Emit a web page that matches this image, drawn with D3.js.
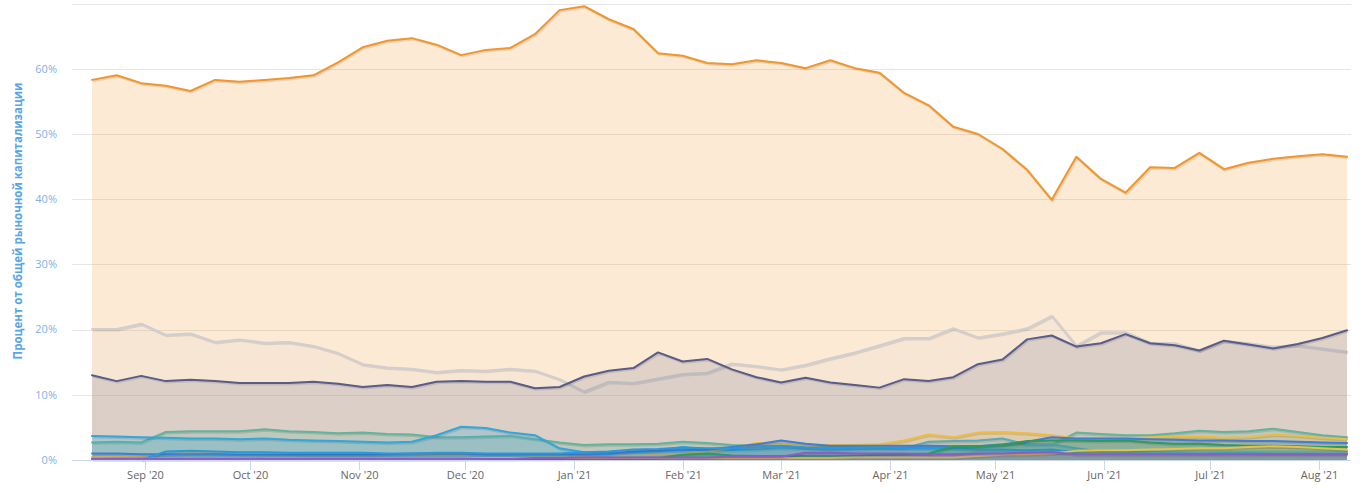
<!DOCTYPE html>
<html><head><meta charset="utf-8">
<script src="https://cdn.jsdelivr.net/npm/d3@7"></script>
<style>body{margin:0;background:#fff}svg{display:block}</style>
</head><body><svg id="c" width="1364" height="493"></svg>
<script>
const dates = ["2020-08-17","2020-08-24","2020-08-31","2020-09-07","2020-09-14","2020-09-21","2020-09-28",
"2020-10-05","2020-10-12","2020-10-19","2020-10-26","2020-11-02","2020-11-09","2020-11-16","2020-11-23","2020-11-30",
"2020-12-07","2020-12-14","2020-12-21","2020-12-28","2021-01-04","2021-01-11","2021-01-18","2021-01-25",
"2021-02-01","2021-02-08","2021-02-15","2021-02-22","2021-03-01","2021-03-08","2021-03-15","2021-03-22","2021-03-29",
"2021-04-05","2021-04-12","2021-04-19","2021-04-26","2021-05-03","2021-05-10","2021-05-17","2021-05-24","2021-05-31",
"2021-06-07","2021-06-14","2021-06-21","2021-06-28","2021-07-05","2021-07-12","2021-07-19","2021-07-26","2021-08-02","2021-08-09"];

const bitcoin = [58.3,59.0,57.8,57.4,56.6,58.3,58.0,58.3,58.6,59.0,61.0,63.3,64.3,64.7,63.7,62.1,62.9,63.2,65.3,69.0,
69.6,67.6,66.1,62.4,62.0,60.9,60.7,61.3,60.9,60.1,61.3,60.1,59.4,56.3,54.4,51.1,50.0,47.7,44.5,39.9,
46.5,43.1,41.0,44.9,44.8,47.1,44.6,45.6,46.2,46.6,46.9,46.5];
const others = [20.1,20.1,20.9,19.2,19.4,18.1,18.5,18.0,18.1,17.5,16.4,14.7,14.2,14.0,13.5,13.8,13.7,14.0,13.7,12.4,
10.5,12.0,11.8,12.5,13.2,13.4,14.8,14.4,13.9,14.6,15.6,16.5,17.6,18.7,18.7,20.2,18.8,19.4,20.2,22.1,
17.5,19.6,19.6,18.0,17.9,16.8,18.3,17.9,17.4,17.6,17.1,16.6];
const ethereum = [13.0,12.1,12.9,12.1,12.3,12.1,11.8,11.8,11.8,12.0,11.7,11.2,11.5,11.2,12.0,12.1,12.0,12.0,11.0,11.2,
12.8,13.7,14.1,16.5,15.1,15.5,13.9,12.7,11.9,12.6,11.9,11.5,11.1,12.4,12.1,12.7,14.7,15.4,18.5,19.1,
17.4,17.9,19.3,17.9,17.6,16.8,18.3,17.7,17.1,17.8,18.7,19.9];
const tether = [2.7,2.8,2.7,4.3,4.4,4.4,4.4,4.7,4.4,4.3,4.1,4.2,4.0,3.9,3.5,3.5,3.6,3.7,3.2,2.7,
2.3,2.4,2.4,2.5,2.8,2.6,2.3,2.2,2.1,2.0,2.0,2.0,1.9,1.9,2.0,2.0,2.1,2.2,2.3,2.3,
4.2,4.0,3.8,3.8,4.1,4.5,4.3,4.4,4.8,4.3,3.8,3.5];
const xrp = [3.7,3.6,3.5,3.4,3.3,3.3,3.2,3.3,3.1,3.0,2.9,2.8,2.7,2.8,3.8,5.1,4.9,4.2,3.8,1.8,
1.2,1.1,1.2,1.4,2.0,1.6,1.5,1.6,1.8,1.7,1.6,1.6,1.7,1.8,2.8,2.9,3.0,3.3,2.4,2.4,
1.8,1.3,1.2,1.2,1.3,1.3,1.3,1.3,1.3,1.3,1.3,1.3];
const binance = [0.5,0.6,0.6,0.9,1.0,1.0,1.0,0.9,0.9,0.8,0.8,0.8,0.8,0.8,0.8,0.8,0.8,0.8,0.7,0.7,
0.6,0.7,0.7,0.8,1.0,1.3,1.8,2.6,2.5,2.2,2.3,2.3,2.4,3.0,3.9,3.5,4.2,4.3,4.1,3.8,
3.3,3.4,3.3,3.5,3.6,3.6,3.4,3.5,3.9,3.7,3.4,3.2];
const cardano = [1.0,1.0,0.9,0.9,0.9,0.9,0.8,0.8,0.8,0.8,0.8,0.8,0.9,1.0,1.0,1.0,0.9,0.9,0.9,0.9,
0.8,0.9,1.3,1.4,1.5,1.6,2.0,2.4,3.0,2.5,2.2,2.2,2.2,2.2,2.2,2.1,2.1,2.4,2.8,3.5,
3.3,3.3,3.3,3.2,3.1,3.0,3.0,2.9,2.9,2.8,2.7,2.6];
const polkadot = [null,null,0.0,1.3,1.4,1.3,1.2,1.2,1.1,1.1,1.1,1.1,1.0,1.0,1.1,1.1,1.0,1.0,1.0,1.0,
1.2,1.3,1.6,1.7,1.9,1.8,1.8,1.9,2.2,1.9,1.7,1.9,1.9,1.8,1.8,1.8,1.6,1.6,1.5,1.6,
1.2,1.4,1.3,1.2,1.1,1.0,1.1,1.1,1.0,1.0,1.0,1.0];
const dogecoin = [0.1,0.1,0.1,0.1,0.1,0.1,0.1,0.1,0.1,0.1,0.1,0.1,0.1,0.1,0.1,0.1,0.1,0.1,0.1,0.1,
0.2,0.2,0.2,0.3,0.8,1.0,0.7,0.6,0.6,0.6,0.6,0.6,0.8,0.9,1.0,2.1,2.1,2.3,2.9,3.0,
3.0,2.9,3.0,2.7,2.5,2.5,2.3,2.2,2.2,2.1,2.0,2.0];
const usdcoin = [0.2,0.2,0.2,0.2,0.2,0.2,0.2,0.2,0.2,0.2,0.2,0.2,0.2,0.2,0.2,0.2,0.3,0.3,0.3,0.3,
0.3,0.3,0.3,0.3,0.3,0.3,0.3,0.3,0.3,0.3,0.3,0.4,0.4,0.4,0.4,0.4,0.6,0.8,0.9,1.0,
1.4,1.5,1.5,1.6,1.7,1.8,1.8,2.0,2.1,2.0,1.8,1.6];
const solana = [0.2,0.2,0.2,0.2,0.2,0.2,0.2,0.2,0.2,0.2,0.2,0.2,0.2,0.2,0.2,0.2,0.2,0.2,0.3,0.3,
0.4,0.4,0.4,0.4,0.4,0.4,0.5,0.5,0.5,1.1,1.1,1.0,1.0,1.0,0.9,0.9,1.0,1.0,1.1,1.2,
0.9,0.9,0.9,0.9,0.9,0.9,0.9,0.9,0.9,0.9,0.9,0.9];

const yTicks = [0,10,20,30,40,50,60,70];
const yTickLabels = ["0%","10%","20%","30%","40%","50%","60%",""];
const monthTicks = ["2020-09-01","2020-10-01","2020-11-01","2020-12-01","2021-01-01","2021-02-01","2021-03-01","2021-04-01","2021-05-01","2021-06-01","2021-07-01","2021-08-01"];
const monthLabels = ["Sep '20","Oct '20","Nov '20","Dec '20","Jan '21","Feb '21","Mar '21","Apr '21","May '21","Jun '21","Jul '21","Aug '21"];
const yTitle = "Процент от общей рыночной капитализации";

const series = [
  {name:"Bitcoin", color:"#f39628", fill:0.2, values:bitcoin},
  {name:"Others", color:"#cfcfd3", fill:0.12, values:others},
  {name:"Ethereum", color:"#575c8a", fill:0.17, values:ethereum},
  {name:"Tether", color:"#62b49b", fill:0.25, values:tether},
  {name:"XRP", color:"#2fa8dd", fill:0.25, values:xrp},
  {name:"Binance Coin", color:"#efbd3c", fill:0.2, values:binance},
  {name:"Cardano", color:"#3f7ed6", fill:0.22, values:cardano},
  {name:"Polkadot", color:"#2b97dc", fill:0.22, values:polkadot},
  {name:"Dogecoin", color:"#2c9c5c", fill:0.22, values:dogecoin},
  {name:"USD Coin", color:"#e6c24a", fill:0.2, values:usdcoin},
  {name:"Solana", color:"#8a5bc9", fill:0.22, values:solana}
];

const parse = d3.timeParse("%Y-%m-%d");
const svg = d3.select("#c");
const FONT = "'Open Sans', sans-serif";
const x = d3.scaleTime().domain([parse(dates[0]), parse(dates[dates.length-1])]).range([92,1347]);
const y = d3.scaleLinear().domain([0,70]).range([460,3.6]);

svg.append("g").selectAll("line").data(yTicks.filter(d=>d>0)).join("line")
  .attr("x1",72).attr("x2",1351).attr("y1",d=>Math.round(y(d))+0.5).attr("y2",d=>Math.round(y(d))+0.5)
  .attr("stroke","#e6e6e6").attr("stroke-width",1);

svg.append("g").selectAll("text").data(yTicks).join("text")
  .attr("x",57).attr("y",d=>y(d)).attr("dy","0.35em").attr("text-anchor","end")
  .attr("font-family",FONT).attr("font-size",11).attr("fill","#7fb1e8")
  .text((d,i)=>yTickLabels[i]);

svg.append("text").attr("transform","translate(22,221) rotate(-90)").attr("text-anchor","middle")
  .attr("font-family",FONT).attr("font-size",11.5).attr("font-weight","bold").attr("fill","#55a5ea")
  .text(yTitle);

const pts = s => s.values.map((v,i)=>({d:parse(dates[i]), v}));
const area = d3.area().defined(p=>p.v!=null).x(p=>x(p.d)).y0(y(0)).y1(p=>y(p.v));
const line = d3.line().defined(p=>p.v!=null).x(p=>x(p.d)).y(p=>y(p.v));

const g = svg.append("g");
series.forEach(s=>{
  const p = pts(s);
  const sg = g.append("g");
  sg.append("path").attr("d",area(p)).attr("fill",s.color).attr("fill-opacity",s.fill);
  sg.append("path").attr("d",line(p)).attr("fill","none").attr("stroke","#000").attr("stroke-opacity",0.1)
    .attr("stroke-width",3).attr("transform","translate(1,1)").attr("stroke-linejoin","round");
  sg.append("path").attr("d",line(p)).attr("fill","none").attr("stroke",s.color)
    .attr("stroke-width",2).attr("stroke-linejoin","round").attr("stroke-linecap","round");
});

svg.append("line").attr("x1",72).attr("x2",1351).attr("y1",460.5).attr("y2",460.5).attr("stroke","#ccd6eb");
const xt = svg.append("g");
monthTicks.forEach((m,i)=>{
  const xx = Math.round(x(parse(m)))+0.5;
  xt.append("line").attr("x1",xx).attr("x2",xx).attr("y1",460).attr("y2",470).attr("stroke","#ccd6eb");
  xt.append("text").attr("x",xx).attr("y",479).attr("text-anchor","middle")
    .attr("font-family",FONT).attr("font-size",11).attr("fill","#666666").text(monthLabels[i]);
});
</script></body></html>
